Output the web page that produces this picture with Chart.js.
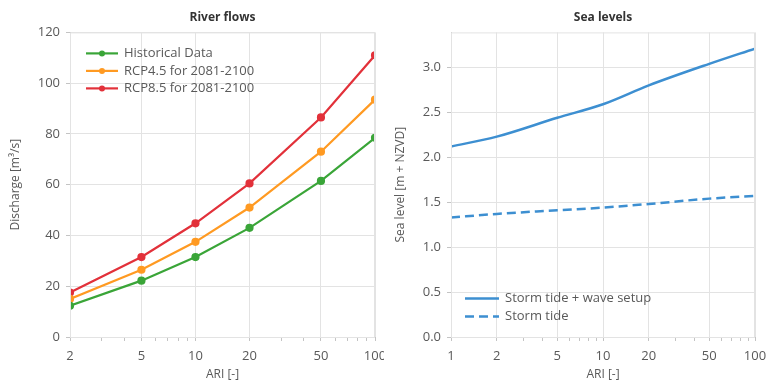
<!DOCTYPE html>
<html>
<head>
<meta charset="utf-8">
<script src="https://cdn.jsdelivr.net/npm/chart.js@4/dist/chart.umd.min.js"></script>
<style>
  html, body { margin: 0; padding: 0; background: #fff; }
  .wrap { position: absolute; top: 0; width: 384px; height: 385px; }
</style>
</head>
<body>
<div class="wrap" style="left:0"><canvas id="riverChart" width="384" height="385"></canvas></div>
<div class="wrap" style="left:384px"><canvas id="seaChart" width="384" height="385"></canvas></div>
<script>
// river flows (ARI in years vs discharge)
const riverAri = [2, 5, 10, 20, 50, 100];
const historical = [12.3, 22.2, 31.5, 43, 61.5, 78.5];
const rcp45 = [15, 26.5, 37.5, 51, 73, 93.5];
const rcp85 = [17.5, 31.5, 44.8, 60.5, 86.5, 111];

// sea levels
const seaAri = [1, 2, 5, 10, 20, 50, 100];
const stormWave = [2.12, 2.23, 2.44, 2.59, 2.80, 3.04, 3.21];
const stormTide = [1.33, 1.37, 1.41, 1.44, 1.48, 1.54, 1.57];

// log axis ticks
const riverMajor = [2, 5, 10, 20, 50, 100];
const seaMajor = [1, 2, 5, 10, 20, 50, 100];
const minorTicks = [3, 4, 6, 7, 8, 9, 30, 40, 60, 70, 80, 90];

const tickColor = '#595959';
const gridColor = '#e3e3e3';
const axisColor = '#c4c4c4';
Chart.defaults.font.family = "'Open Sans', sans-serif";

function toPoints(xs, ys) {
    return xs.map((x, i) => ({ x: x, y: ys[i] }));
}

// frame round the plot area
const framePlugin = {
    id: 'frame',
    afterDraw(chart) {
        const a = chart.chartArea;
        const ctx = chart.ctx;
        ctx.save();
        ctx.strokeStyle = gridColor;
        ctx.lineWidth = 1;
        ctx.strokeRect(a.left + 0.5, a.top + 0.5, a.right - a.left - 1, a.bottom - a.top);
        ctx.restore();
    }
};

// legend drawn inside the plot area, line + marker
const insetLegend = {
    id: 'insetLegend',
    afterDraw(chart, args, opts) {
        const ctx = chart.ctx;
        const a = chart.chartArea;
        ctx.save();
        chart.data.datasets.forEach((ds, i) => {
            const x0 = a.left + opts.x;
            const y = a.top + opts.y + i * opts.rowGap;
            ctx.strokeStyle = ds.borderColor;
            ctx.lineWidth = ds.borderWidth;
            ctx.setLineDash(ds.borderDash || []);
            ctx.beginPath();
            ctx.moveTo(x0, y);
            ctx.lineTo(x0 + opts.lineLen, y);
            ctx.stroke();
            ctx.setLineDash([]);
            if (ds.pointRadius > 0) {
                ctx.fillStyle = ds.borderColor;
                ctx.beginPath();
                ctx.arc(x0 + opts.lineLen / 2, y, ds.pointRadius, 0, Math.PI * 2);
                ctx.fill();
            }
            ctx.fillStyle = tickColor;
            ctx.font = "13px 'Open Sans', sans-serif";
            ctx.textBaseline = 'middle';
            ctx.fillText(ds.label, x0 + opts.lineLen + 6, y);
        });
        ctx.restore();
    }
};

function logAxis(min, max, major) {
    return {
        type: 'logarithmic',
        min: min,
        max: max,
        afterBuildTicks: (scale) => {
            const vals = major.concat(minorTicks.filter(v => v > min && v < max)).sort((a, b) => a - b);
            scale.ticks = vals.map(v => ({ value: v }));
        },
        afterFit: (scale) => {
            scale.height = 48;
            scale.paddingLeft = 0;
            scale.paddingRight = 0;
        },
        grid: {
            color: (c) => major.includes(c.tick.value) ? gridColor : 'rgba(0,0,0,0)',
            tickColor: axisColor,
            tickLength: 4
        },
        border: { color: axisColor },
        ticks: {
            autoSkip: false,
            maxRotation: 0,
            padding: 7,
            color: tickColor,
            font: { size: 13 },
            callback: (v) => major.includes(v) ? String(v) : ''
        },
        title: {
            display: true,
            text: 'ARI [-]',
            color: tickColor,
            font: { size: 12 },
            padding: { top: 0, bottom: 3 }
        }
    };
}

function titleOpts(text) {
    return {
        display: true,
        text: text,
        fullSize: false,
        color: '#333',
        font: { size: 12, weight: 'bold' },
        padding: { top: 10, bottom: 8 }
    };
}

new Chart(document.getElementById('riverChart'), {
    type: 'line',
    data: {
        datasets: [
            { label: 'Historical Data', data: toPoints(riverAri, historical), borderColor: '#3aa538', backgroundColor: '#3aa538', borderWidth: 2.2, pointRadius: 3 },
            { label: 'RCP4.5 for 2081-2100', data: toPoints(riverAri, rcp45), borderColor: '#ff9a22', backgroundColor: '#ff9a22', borderWidth: 2.2, pointRadius: 3 },
            { label: 'RCP8.5 for 2081-2100', data: toPoints(riverAri, rcp85), borderColor: '#e2313a', backgroundColor: '#e2313a', borderWidth: 2.2, pointRadius: 3 }
        ]
    },
    options: {
        responsive: false,
        animation: false,
        layout: { padding: { left: 0, right: 9, top: 0, bottom: 0 } },
        plugins: {
            legend: { display: false },
            tooltip: { enabled: false },
            title: titleOpts('River flows'),
            insetLegend: { x: 16, y: 21, rowGap: 17.5, lineLen: 32 }
        },
        scales: {
            x: logAxis(2, 100, riverMajor),
            y: {
                min: 0,
                max: 120,
                afterFit: (scale) => { scale.width = 70; },
                grid: { color: gridColor, tickColor: axisColor, tickLength: 4 },
                border: { color: axisColor },
                ticks: { stepSize: 20, padding: 6, color: tickColor, font: { size: 13 } },
                title: { display: true, text: 'Discharge [m³/s]', color: tickColor, font: { size: 12 }, padding: { top: 8, bottom: 0 } }
            }
        }
    },
    plugins: [framePlugin, insetLegend]
});

new Chart(document.getElementById('seaChart'), {
    type: 'line',
    data: {
        datasets: [
            { label: 'Storm tide + wave setup', data: toPoints(seaAri, stormWave), borderColor: '#3d8fd1', borderWidth: 2.5, pointRadius: 0, cubicInterpolationMode: 'monotone' },
            { label: 'Storm tide', data: toPoints(seaAri, stormTide), borderColor: '#3d8fd1', borderWidth: 2.5, borderDash: [9, 5], pointRadius: 0, cubicInterpolationMode: 'monotone' }
        ]
    },
    options: {
        responsive: false,
        animation: false,
        layout: { padding: { left: 0, right: 13, top: 0, bottom: 0 } },
        plugins: {
            legend: { display: false },
            tooltip: { enabled: false },
            title: titleOpts('Sea levels'),
            insetLegend: { x: 14, y: 266, rowGap: 18, lineLen: 34 }
        },
        scales: {
            x: logAxis(1, 100, seaMajor),
            y: {
                min: 0,
                max: 3.39,
                afterBuildTicks: (scale) => {
                    scale.ticks = scale.ticks.filter(t => Math.abs(t.value * 2 - Math.round(t.value * 2)) < 1e-6);
                },
                afterFit: (scale) => { scale.width = 67; },
                grid: { color: gridColor, tickColor: axisColor, tickLength: 4 },
                border: { color: axisColor },
                ticks: { stepSize: 0.5, padding: 6, color: tickColor, font: { size: 13 }, callback: (v) => v.toFixed(1) },
                title: { display: true, text: 'Sea level [m + NZVD]', color: tickColor, font: { size: 12 }, padding: { top: 9, bottom: 0 } }
            }
        }
    },
    plugins: [framePlugin, insetLegend]
});
</script>
</body>
</html>
